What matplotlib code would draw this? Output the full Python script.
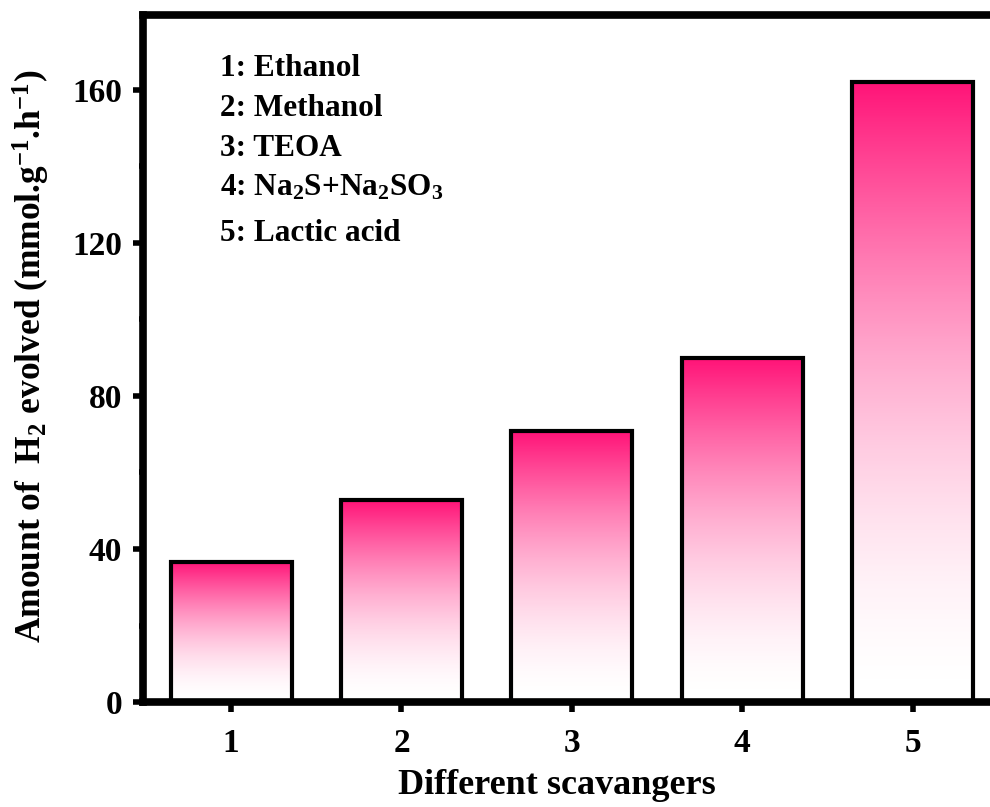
import matplotlib
matplotlib.use('Agg')
import matplotlib.pyplot as plt
import numpy as np
from matplotlib.colors import LinearSegmentedColormap

# H2 evolution for each hole scavenger
positions = [1, 2, 3, 4, 5]
rates = [36.6, 52.8, 70.8, 89.9, 162.1]
tick_labels = ['1', '2', '3', '4', '5']
scavengers = ['1: Ethanol', '2: Methanol', '3: TEOA',
              r'4: Na$_2$S+Na$_2$SO$_3$', '5: Lactic acid']

plt.rcParams['font.family'] = 'Liberation Serif'
plt.rcParams['font.weight'] = 'bold'
plt.rcParams['mathtext.default'] = 'regular'

fig = plt.figure(figsize=(9.9, 8.07), dpi=100)
ax = fig.add_axes([0.1444, 0.1301, 0.8665, 0.8513])

# white at the bottom of each bar, deep pink at its top
pink = LinearSegmentedColormap.from_list('pinkfade', ['#ffffff', '#ff1478'])
grad = np.linspace(0, 1, 256) ** 1.7
grad = grad.reshape(-1, 1)

width = 0.71
bars = ax.bar(positions, rates, width=width, facecolor='none',
              edgecolor='black', linewidth=3, zorder=3)
for bar in bars:
    x0 = bar.get_x()
    h = bar.get_height()
    ax.imshow(grad, cmap=pink, origin='lower', aspect='auto',
              extent=(x0, x0 + bar.get_width(), 0, h), zorder=2)

ax.set_xlim(0.483, 5.517)
ax.set_ylim(0, 179.6)
ax.set_xticks(positions)
ax.set_xticklabels(tick_labels)
ax.set_yticks([0, 40, 80, 120, 160])
ax.set_yticks([20, 60, 100, 140], minor=True)

for side in ['left', 'bottom', 'top', 'right']:
    ax.spines[side].set_linewidth(5.5)
ax.tick_params(axis='both', which='major', direction='out', length=7,
               width=4, labelsize=24)
ax.tick_params(axis='x', which='major', pad=12)
ax.tick_params(axis='y', which='major', pad=8)
ax.tick_params(axis='y', which='minor', direction='out', length=3, width=4)
ax.tick_params(axis='x', which='minor', bottom=False)

ax.set_xlabel('Different scavangers', fontsize=26, fontweight='bold')
ax.xaxis.set_label_coords(0.482, -0.097)
ax.set_ylabel(r'Amount of  H$_2$ evolved (mmol.g$^{-1}$.h$^{-1}$)',
              fontsize=25.5, fontweight='bold')
ax.yaxis.set_label_coords(-0.106, 0.503)

# scavenger key in the upper left
label_y = [165.5, 155.1, 144.6, 134.5, 122.5]
for y, name in zip(label_y, scavengers):
    ax.text(0.935, y, name, fontsize=22.5, fontweight='bold',
            ha='left', va='center')

fig.savefig('out.png', dpi=100)
